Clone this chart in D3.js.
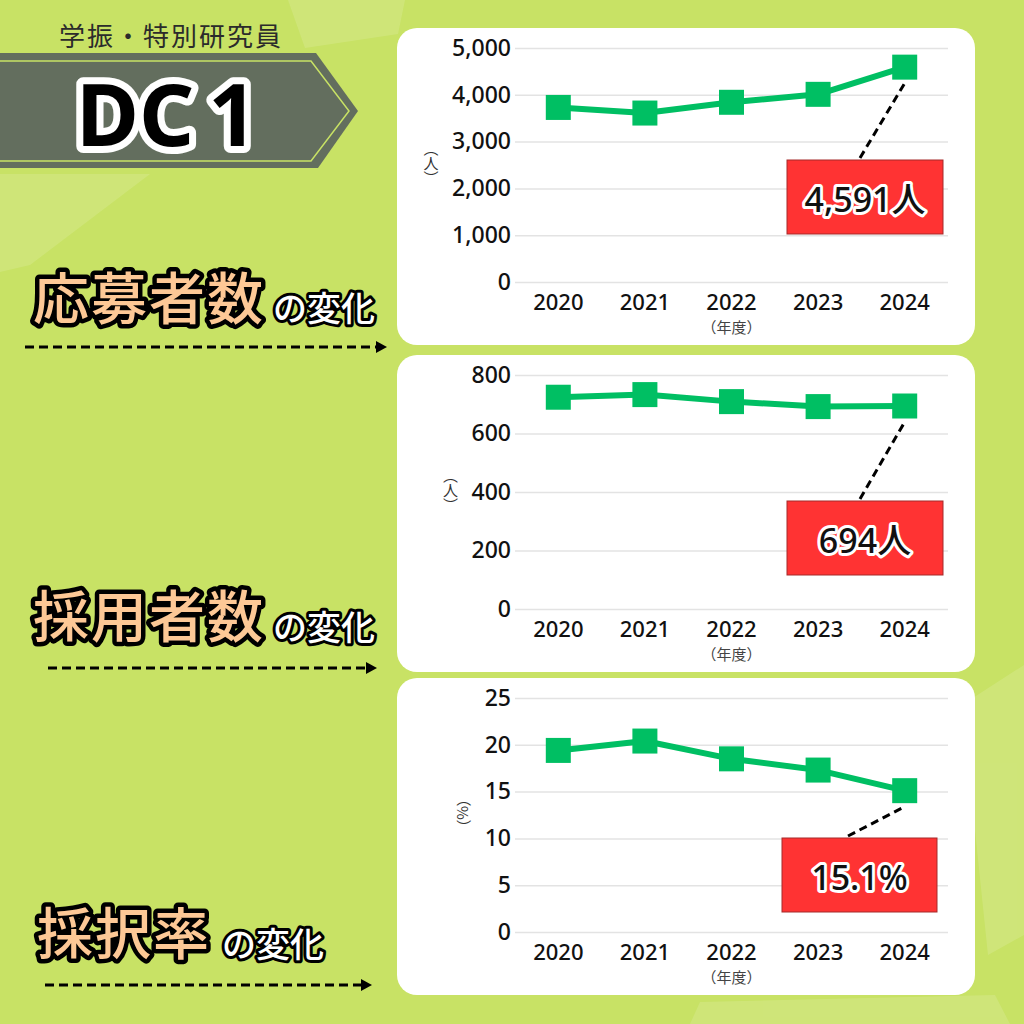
<!DOCTYPE html>
<html>
<head>
<meta charset="utf-8">
<script src="https://cdn.jsdelivr.net/npm/d3@7"></script>
<style>
  html, body { margin: 0; padding: 0; background: #c8e265; }
  svg { display: block; }
  text { font-family: "Noto Sans", "Noto Sans CJK JP", sans-serif; }
</style>
</head>
<body>
<svg id="chart" width="1024" height="1024"></svg>
<script>
// data
const years = ["2020", "2021", "2022", "2023", "2024"];
const applicants = [3730, 3610, 3840, 4010, 4591];
const adopted = [724, 733, 709, 692, 694];
const rates = [19.4, 20.4, 18.5, 17.3, 15.1];

const applicantTicks = [0, 1000, 2000, 3000, 4000, 5000];
const adoptedTicks = [0, 200, 400, 600, 800];
const rateTicks = [0, 5, 10, 15, 20, 25];

const green = '#00bf63';
const red = '#ff3333';

const svg = d3.select('#chart');

// background
svg.append('rect').attr('width', 1024).attr('height', 1024).attr('fill', '#c8e265');

const glow = svg.append('g').attr('fill', '#ffffff').attr('opacity', 0.13);
[
    [[288, 0], [405, 0], [398, 34], [305, 48]],
    [[0, 174], [150, 174], [30, 265], [0, 272]],
    [[962, 705], [1024, 665], [1024, 935], [988, 955]],
    [[700, 1002], [995, 995], [1010, 1024], [690, 1024]]
].forEach(p => glow.append('polygon').attr('points', p.join(' ')));

// header
svg.append('text')
    .attr('x', 59).attr('y', 36)
    .attr('dominant-baseline', 'central')
    .attr('font-size', 26)
    .attr('letter-spacing', 2)
    .attr('fill', '#2b2b2b')
    .attr('font-family', '"Noto Sans CJK JP", sans-serif')
    .text('学振・特別研究員');

svg.append('polygon')
    .attr('points', [[0, 53], [316, 53], [358, 111], [318, 168], [0, 168]].join(' '))
    .attr('fill', '#636e5e');
svg.append('polyline')
    .attr('points', [[0, 61], [311, 61], [349, 111], [311, 161], [0, 161]].join(' '))
    .attr('fill', 'none')
    .attr('stroke', '#c8e265')
    .attr('stroke-width', 1.5);

const dc = svg.append('text')
    .attr('x', 76).attr('y', 112)
    .attr('dominant-baseline', 'central')
    .attr('font-size', 86)
    .attr('font-weight', 700)
    .attr('fill', '#000')
    .attr('stroke', '#fff')
    .attr('stroke-width', 14)
    .attr('stroke-linejoin', 'round')
    .attr('paint-order', 'stroke');
dc.append('tspan').text('DC');
dc.append('tspan').attr('dx', 14).text('1');

// left titles
const titles = [
    { main: '応募者数', x: 33, y: 297, subX: 273, subY: 308, arrowY: 347, arrowX: [25, 387] },
    { main: '採用者数', x: 33, y: 615, subX: 273, subY: 627, arrowY: 668, arrowX: [48, 377] },
    { main: '採択率', x: 37, y: 932, subX: 222, subY: 944, arrowY: 985, arrowX: [45, 372] }
];

titles.forEach(t => {
    svg.append('text')
        .attr('x', t.x).attr('y', t.y)
        .attr('dominant-baseline', 'central')
        .attr('font-size', 56)
        .attr('font-weight', 500)
        .attr('font-family', '"Noto Sans CJK JP", sans-serif')
        .attr('fill', '#fdc896')
        .attr('stroke', '#000')
        .attr('stroke-width', 9)
        .attr('stroke-linejoin', 'round')
        .attr('paint-order', 'stroke')
        .attr('letter-spacing', 2)
        .text(t.main);

    svg.append('text')
        .attr('x', t.subX).attr('y', t.subY)
        .attr('dominant-baseline', 'central')
        .attr('font-size', 34)
        .attr('font-weight', 500)
        .attr('font-family', '"Noto Sans CJK JP", sans-serif')
        .attr('fill', '#fff')
        .attr('stroke', '#000')
        .attr('stroke-width', 6)
        .attr('stroke-linejoin', 'round')
        .attr('paint-order', 'stroke')
        .text('の変化');

    svg.append('line')
        .attr('x1', t.arrowX[0]).attr('x2', t.arrowX[1] - 8)
        .attr('y1', t.arrowY).attr('y2', t.arrowY)
        .attr('stroke', '#000')
        .attr('stroke-width', 3)
        .attr('stroke-dasharray', '9 5');
    const ax = t.arrowX[1];
    svg.append('polygon')
        .attr('points', [[ax - 11, t.arrowY - 6], [ax, t.arrowY], [ax - 11, t.arrowY + 6]].join(' '))
        .attr('fill', '#000');
});

// charts
const charts = [
    { top: 28, values: applicants, ticks: applicantTicks, max: 5000, fmt: d3.format(','), unit: '（人）',
      label: '4,591人', box: [787, 160, 156, 74], lineX: 860 },
    { top: 355, values: adopted, ticks: adoptedTicks, max: 800, fmt: d3.format('d'), unit: '（人）',
      label: '694人', box: [787, 501, 156, 74], lineX: 860 },
    { top: 678, values: rates, ticks: rateTicks, max: 25, fmt: d3.format('d'), unit: '（%）',
      label: '15.1%', box: [782, 838, 155, 74], lineX: 848 }
];

const plotLeft = 515, plotRight = 948;

charts.forEach(c => {
    const g = svg.append('g');

    g.append('rect')
        .attr('x', 397).attr('y', c.top)
        .attr('width', 578).attr('height', 317)
        .attr('rx', 20)
        .attr('fill', '#fff');

    const x = d3.scaleBand().domain(years).range([plotLeft, plotRight]);
    const y = d3.scaleLinear().domain([0, c.max]).range([c.top + 254, c.top + 20]);
    const cx = d => x(d) + x.bandwidth() / 2;

    const yAxis = g.append('g')
        .attr('transform', `translate(${plotLeft},0)`)
        .call(d3.axisLeft(y).tickValues(c.ticks).tickFormat(c.fmt)
            .tickSize(-(plotRight - plotLeft)).tickPadding(4));
    yAxis.select('.domain').remove();
    yAxis.selectAll('.tick line').attr('stroke', '#e3e3e3').attr('stroke-width', 1.5);
    yAxis.selectAll('.tick text')
        .attr('font-size', 23)
        .attr('font-weight', 500)
        .attr('fill', '#111')
        .attr('font-family', '"Noto Sans", sans-serif');

    const xAxis = g.append('g')
        .attr('transform', `translate(0,${c.top + 254})`)
        .call(d3.axisBottom(x).tickSize(0).tickPadding(12));
    xAxis.select('.domain').remove();
    xAxis.selectAll('.tick text')
        .attr('font-size', 22)
        .attr('font-weight', 500)
        .attr('fill', '#111')
        .attr('font-family', '"Noto Sans", sans-serif');

    g.append('text')
        .attr('x', (plotLeft + plotRight) / 2)
        .attr('y', c.top + 299)
        .attr('text-anchor', 'middle')
        .attr('dominant-baseline', 'central')
        .attr('font-size', 15)
        .attr('font-family', '"Noto Sans CJK JP", sans-serif')
        .attr('fill', '#444')
        .text('（年度）');

    // unit label sits left of the widest tick label
    let minX = plotLeft;
    yAxis.selectAll('.tick text').each(function () {
        const b = this.getBBox();
        const ctm = this.getCTM();
        minX = Math.min(minX, b.x + ctm.e);
    });
    g.append('text')
        .attr('x', minX - 21)
        .attr('y', (y(0) + y(c.max)) / 2 - 2)
        .attr('text-anchor', 'middle')
        .attr('writing-mode', 'vertical-rl')
        .attr('style', 'writing-mode: vertical-rl; font-family: "Noto Sans CJK JP", sans-serif')
        .attr('font-size', 15)
        .attr('fill', '#333')
        .text(c.unit);

    const line = d3.line().x((d, i) => cx(years[i])).y(d => y(d));
    g.append('path')
        .datum(c.values)
        .attr('d', line)
        .attr('fill', 'none')
        .attr('stroke', green)
        .attr('stroke-width', 6)
        .attr('stroke-linejoin', 'round');

    g.selectAll('rect.marker')
        .data(c.values)
        .join('rect')
        .attr('class', 'marker')
        .attr('x', (d, i) => cx(years[i]) - 12.5)
        .attr('y', d => y(d) - 12.5)
        .attr('width', 25).attr('height', 25)
        .attr('fill', green);

    // callout
    const last = c.values.length - 1;
    g.append('line')
        .attr('x1', c.lineX).attr('y1', c.box[1] - 2)
        .attr('x2', cx(years[last])).attr('y2', y(c.values[last]) + 16)
        .attr('stroke', '#000')
        .attr('stroke-width', 3)
        .attr('stroke-dasharray', '8 5');

    g.append('rect')
        .attr('x', c.box[0]).attr('y', c.box[1])
        .attr('width', c.box[2]).attr('height', c.box[3])
        .attr('fill', red)
        .attr('stroke', '#a52a2a')
        .attr('stroke-width', 1);

    g.append('text')
        .attr('x', c.box[0] + c.box[2] / 2)
        .attr('y', c.box[1] + c.box[3] / 2 + 2)
        .attr('text-anchor', 'middle')
        .attr('dominant-baseline', 'central')
        .attr('font-size', 34)
        .attr('font-weight', 500)
        .attr('fill', '#111')
        .attr('stroke', '#fff')
        .attr('stroke-width', 6)
        .attr('stroke-linejoin', 'round')
        .attr('paint-order', 'stroke')
        .text(c.label);
});
</script>
</body>
</html>
